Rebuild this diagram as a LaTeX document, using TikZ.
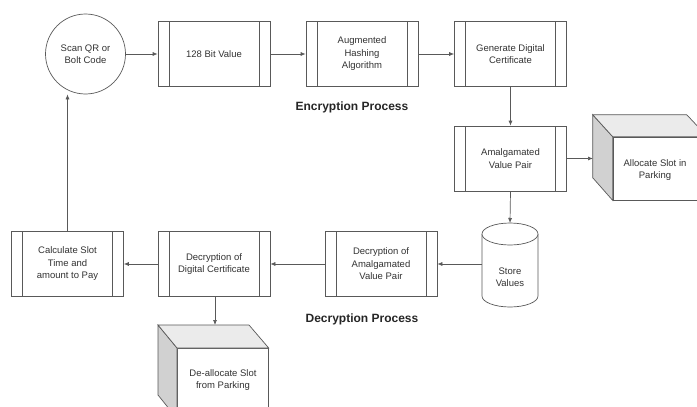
\documentclass[tikz,border=0pt]{standalone}
\usepackage{fontspec}
\setmainfont{Liberation Sans}
\usetikzlibrary{arrows.meta}
\begin{document}
\begin{tikzpicture}[x=1pt,y=-1pt,
  line/.style={draw=black!65, line width=0.7pt},
  arr/.style={line, -{Latex[length=5pt,width=4pt]}},
  txt/.style={align=center, font=\fontsize{9.5}{12.5}\selectfont, text=black!80, inner sep=0pt},
  proc/.style={line, fill=white, rectangle, minimum width=112pt, minimum height=65pt, inner sep=0pt, txt,
    path picture={\draw[black!65,line width=0.7pt]
      ([xshift=11pt]path picture bounding box.north west) -- ([xshift=11pt]path picture bounding box.south west)
      ([xshift=-11pt]path picture bounding box.north east) -- ([xshift=-11pt]path picture bounding box.south east);}},
  lbl/.style={font=\fontsize{12}{14}\selectfont\bfseries, text=black!85, inner sep=0pt},
  face/.style={line, fill=white},
  side/.style={line, fill=black!18},
  topf/.style={line, fill=black!8}
]
\useasboundingbox (0,0) rectangle (697,407);
\fill[white] (0,0) rectangle (697,407);

% top row
\node[line, circle, fill=white, minimum size=80pt, inner sep=0pt, txt] (scan) at (85.5,54) {Scan QR or\\Bolt Code};
\node[proc] (b1) at (214,54) {128 Bit Value};
\node[proc] (b2) at (362,54) {Augmented\\Hashing\\Algorithm};
\node[proc] (b3) at (510.5,54) {Generate Digital\\Certificate};
\node[lbl] (enc) at (352,107) {Encryption Process};

\node[proc] (b4) at (510.5,158.5) {Amalgamated\\Value Pair};

% allocate 3D box
\node[face, minimum width=94pt, minimum height=63pt, inner sep=0pt] (alloc) at (660,168.5) {};
\draw[side] (alloc.north west) -- ++(-20,-22) -- ++(0,63) -- (alloc.south west) -- cycle;
\draw[topf] (alloc.north west) -- ++(-20,-22) -- ++(94,0) -- (alloc.north east) -- cycle;
\coordinate (allocL) at (593,158.5);
\node[txt] (alloctxt) at (655,170) {Allocate Slot in\\Parking};

% cylinder
\draw[line, fill=white] (482,234) -- (482,296) arc[start angle=180, end angle=0, x radius=28, y radius=11] -- (538,234);
\draw[line, fill=white] (510,234) ellipse[x radius=28, y radius=11];
\coordinate (cylN) at (510,223);
\coordinate (cylW) at (482,264);
\node[txt] (store) at (510,277) {Store\\Values};

% bottom row
\node[proc] (b5) at (381,264) {Decryption of\\Amalgamated\\Value Pair};
\node[lbl] (dec) at (362,319) {Decryption Process};
\node[proc] (b6) at (214,264) {Decryption of\\Digital Certificate};
\node[proc] (b7) at (67.5,264) {Calculate Slot\\Time and\\amount to Pay};

% de-allocate 3D box
\node[face, minimum width=91pt, minimum height=70pt, inner sep=0pt, anchor=north west] (dealloc) at (177,348) {};
\draw[side] (dealloc.north west) -- ++(-19,-23) -- ++(0,70) -- (dealloc.south west) -- cycle;
\draw[topf] (dealloc.north west) -- ++(-19,-23) -- ++(91,0) -- (dealloc.north east) -- cycle;
\coordinate (deallocN) at (215,325);
\node[txt] (dealloctxt) at (223,380) {De-allocate Slot\\from Parking};

% connectors
\draw[arr] (scan.east |- b1.west) -- (b1.west);
\draw[arr] (b1) -- (b2);
\draw[arr] (b2) -- (b3);
\draw[arr] (b3) -- (b4);
\draw[arr] (b4.east) -- (allocL);
\draw[arr] (b4.south) -- (cylN);
\draw[arr] (cylW) -- (b5.east);
\draw[arr] (b5) -- (b6);
\draw[arr] (b6) -- (b7);
\draw[arr] (b7.north) -- (b7.north |- scan.south);
\draw[arr] (b6.south -| deallocN) -- (deallocN);
\end{tikzpicture}
\end{document}
